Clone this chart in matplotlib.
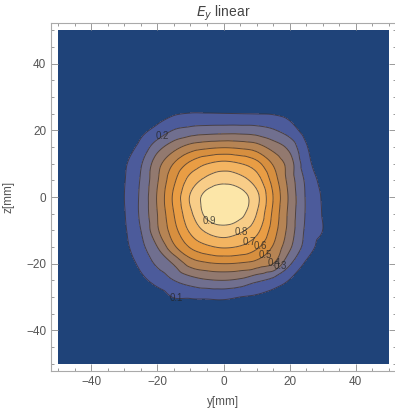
import numpy as np
import matplotlib
matplotlib.use('Agg')
import matplotlib.pyplot as plt
import matplotlib.tri as mtri

# %% field values, 5 mm grid (rows: z from 30 down to -35)
y_mm = np.arange(-35, 36, 5)
z_mm = np.arange(30, -36, -5)
ey = np.array([
    [0.000, 0.000, 0.005, 0.010, 0.020, 0.025, 0.025, 0.025, 0.025, 0.020, 0.020, 0.010, 0.005, 0.000, 0.000],
    [0.000, 0.010, 0.025, 0.060, 0.090, 0.104, 0.104, 0.102, 0.100, 0.098, 0.094, 0.070, 0.025, 0.005, 0.000],
    [0.003, 0.020, 0.075, 0.130, 0.205, 0.235, 0.250, 0.255, 0.255, 0.245, 0.210, 0.150, 0.060, 0.020, 0.000],
    [0.008, 0.050, 0.130, 0.260, 0.360, 0.440, 0.475, 0.490, 0.478, 0.445, 0.360, 0.270, 0.110, 0.030, 0.000],
    [0.015, 0.085, 0.190, 0.360, 0.505, 0.623, 0.697, 0.730, 0.703, 0.635, 0.490, 0.350, 0.140, 0.045, 0.005],
    [0.020, 0.095, 0.210, 0.390, 0.580, 0.740, 0.830, 0.870, 0.840, 0.750, 0.560, 0.360, 0.180, 0.070, 0.010],
    [0.020, 0.100, 0.220, 0.410, 0.620, 0.810, 0.940, 0.990, 0.950, 0.830, 0.600, 0.380, 0.190, 0.090, 0.010],
    [0.020, 0.095, 0.220, 0.400, 0.600, 0.780, 0.930, 0.970, 0.930, 0.800, 0.580, 0.370, 0.190, 0.095, 0.015],
    [0.020, 0.087, 0.200, 0.385, 0.560, 0.720, 0.820, 0.860, 0.820, 0.730, 0.550, 0.360, 0.180, 0.100, 0.020],
    [0.012, 0.075, 0.170, 0.300, 0.480, 0.610, 0.680, 0.710, 0.690, 0.620, 0.490, 0.320, 0.160, 0.060, 0.010],
    [0.006, 0.045, 0.125, 0.220, 0.310, 0.440, 0.485, 0.500, 0.490, 0.460, 0.400, 0.215, 0.085, 0.020, 0.000],
    [0.002, 0.020, 0.075, 0.135, 0.200, 0.255, 0.290, 0.300, 0.280, 0.220, 0.170, 0.095, 0.030, 0.005, 0.000],
    [0.000, 0.005, 0.020, 0.050, 0.105, 0.110, 0.115, 0.120, 0.100, 0.085, 0.055, 0.025, 0.010, 0.000, 0.000],
    [0.000, 0.000, 0.000, 0.010, 0.020, 0.030, 0.030, 0.030, 0.025, 0.015, 0.010, 0.005, 0.000, 0.000, 0.000],
])

levels = [0.1, 0.2, 0.3, 0.4, 0.5, 0.6, 0.7, 0.8, 0.9]
band_clr = ['#1f4379', '#4c5b9b', '#706f8f', '#92796f', '#b68454',
            '#d78f3f', '#e99d44', '#f3b461', '#f8cd88', '#fce6a8']

# where the contour labels sit (data coords)
label_pos = [(-19.0, 18.8), (-14.5, -31.3), (-3.6, -6.3), (4.8, -9.3), (7.0, -12.0),
             (10.6, -14.3), (12.4, -17.0), (14.8, -19.1), (17.6, -20.9)]

# %% pad with zeros out to the plot range +-50 mm
full_y = np.arange(-50, 51, 5)
full_z = np.arange(-50, 51, 5)
field = np.pad(ey[::-1], ((3, 4), (3, 3)))
Y, Z = np.meshgrid(full_y, full_z)

tri = mtri.Triangulation(Y.ravel(), Z.ravel())
interp = mtri.CubicTriInterpolator(tri, field.ravel(), kind='geom')
refiner = mtri.UniformTriRefiner(tri)
tri_f, field_f = refiner.refine_field(field.ravel(), triinterpolator=interp, subdiv=4)

# %%
plt.rcParams['font.family'] = ['Liberation Sans', 'DejaVu Sans']
fig = plt.figure(figsize=(3.95, 4.11), dpi=100)
ax = fig.add_axes([51/395, 40/411, 345/395, 348/411])

ax.tricontourf(tri_f, field_f, levels=[-1] + levels + [2], colors=band_clr)
cs = ax.tricontour(tri_f, field_f, levels=levels, colors='#3a3030', linewidths=0.7, alpha=0.75)
txt = ax.clabel(cs, levels, manual=label_pos, fmt='%.1f', fontsize=7,
                colors='#222222', inline=False)
for t in txt:
    t.set_rotation(0)

ax.set_xlim(-52.2, 52.2)
ax.set_ylim(-52.2, 52.2)
ax.set_xticks(np.arange(-40, 41, 20))
ax.set_yticks(np.arange(-40, 41, 20))
ax.set_xticks(np.arange(-50, 51, 5), minor=True)
ax.set_yticks(np.arange(-50, 51, 5), minor=True)
ax.tick_params(which='both', direction='in', top=True, right=True,
               color='#999999', labelcolor='#555555', labelsize=8.5, width=0.7)
ax.tick_params(which='major', length=5)
ax.tick_params(which='minor', length=2.5)
for s in ax.spines.values():
    s.set_color('#aaaaaa')
    s.set_linewidth(0.8)

ax.set_xlabel('y[mm]', color='#555555', fontsize=8.5, labelpad=6)
ax.set_ylabel('z[mm]', color='#555555', fontsize=8.5, labelpad=8)
ax.set_title('$E_y$ linear', color='#444444', fontsize=10, pad=4)

plt.savefig('out.png', dpi=100)
